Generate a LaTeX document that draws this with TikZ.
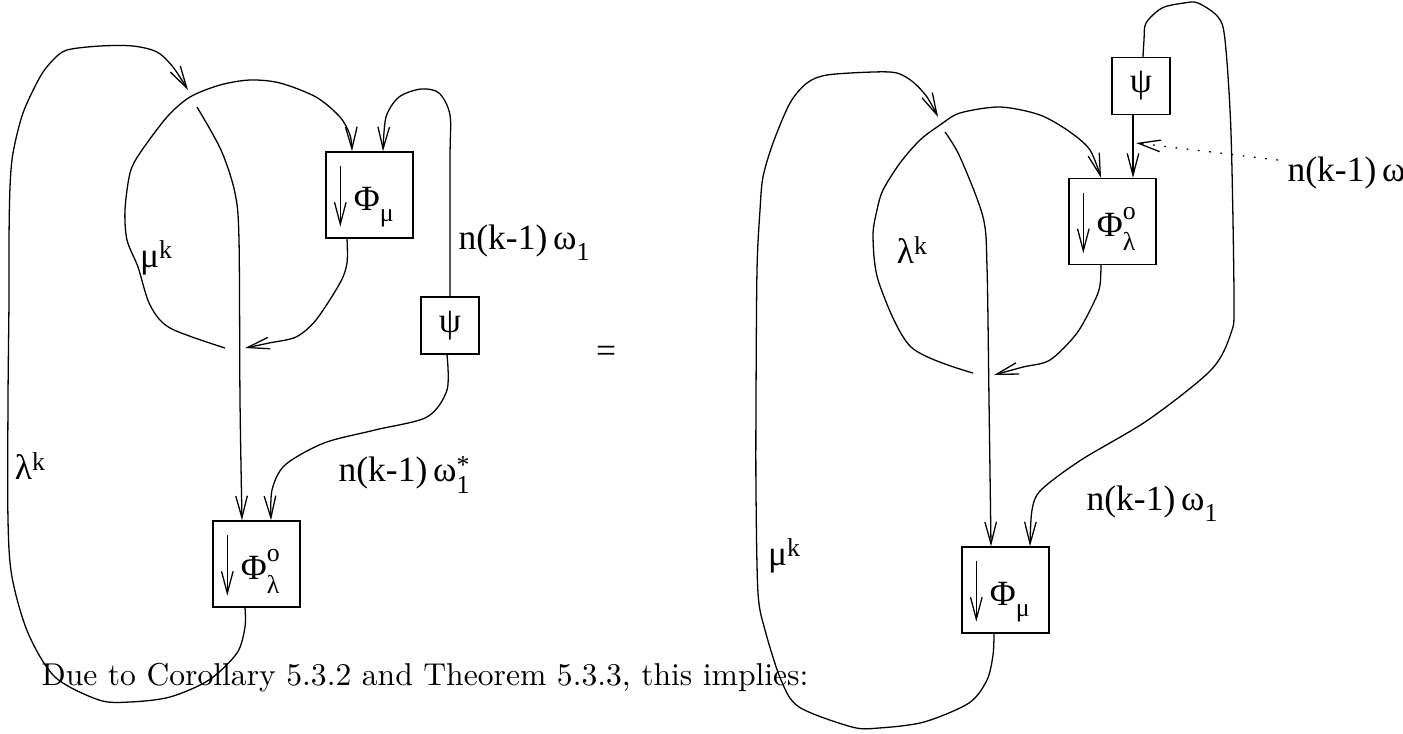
\documentclass[tikz,border=0pt]{standalone}
\usepackage{fontspec}
\setmainfont{Liberation Serif}
\newfontfamily\capfont{Latin Modern Roman}
\usetikzlibrary{arrows.meta}
\newcommand{\scr}[2]{\raisebox{#1}{\fontsize{8}{9}\selectfont #2}}

\begin{document}
\begin{tikzpicture}[x=0.31pt, y=-0.31pt, line width=0.4pt,
	every node/.style={font=\fontsize{11}{13}\selectfont, inner sep=0pt},
	>={Straight Barb[length=6.8pt, width=3.6pt]},
	mapbox/.style={draw, minimum width=27pt, minimum height=26.7pt},
	psibox/.style={draw, minimum width=18pt, minimum height=17.7pt}]
	\useasboundingbox (0,0) rectangle (1403,733);
	% boxes
	\node[mapbox] (pmL) at (369.5,195) {};
	\node[mapbox] (plL) at (256.5,564) {};
	\node[psibox] (psiL) at (450,325.5) {ψ};
	\node[mapbox] (plR) at (1112.5,221.5) {};
	\node[mapbox] (pmR) at (1005.5,590) {};
	\node[psibox] (psiR) at (1141,86) {ψ};
	\node[anchor=base west] (pmLt) at ([shift={(28,15)}]pmL.west) {Φ\scr{-3.6pt}{μ}};
	\node[anchor=base west] (plLt) at ([shift={(28,15)}]plL.west) {Φ\rlap{\scr{5.4pt}{o}}\scr{-4.4pt}{λ}};
	\node[anchor=base west] (plRt) at ([shift={(28,15)}]plR.west) {Φ\rlap{\scr{5.4pt}{o}}\scr{-4.4pt}{λ}};
	\node[anchor=base west] (pmRt) at ([shift={(28,15)}]pmR.west) {Φ\scr{-3.6pt}{μ}};
	\foreach \b in {pmL,plL,plR,pmR}
		\draw[->] ([shift={(15,15)}]\b.north west) -- ([shift={(15,-12)}]\b.south west);
	% crossing ends
	\coordinate (xL1) at (188,90);
	\coordinate (xL2) at (197,107);
	\coordinate (xL3) at (225,348);
	\coordinate (xL4) at (245,348);
	\coordinate (xR1) at (938,117);
	\coordinate (xR2) at (945,132);
	\coordinate (xR3) at (973,373);
	\coordinate (xR4) at (994,375);
	\coordinate (xR5) at (1278,160);
	\coordinate (xR6) at (1136,143);
	% left side
	\draw[->] plot[smooth] coordinates {([shift={(-11.5,0)}]plL.south) (245,627) (237,653) (209,680) (170,697) (130,702) (99,700) (55,677) (28,633) (12,577) (8,520) (8,400) (9,300) (9,240) (10,187) (13,153) (23,113) (40,77) (53,60) (67,50) (100,46) (133,46) (157,52) (173,67) (xL1)};
	\draw[->] plot[smooth] coordinates {(xL2) (221,150) (235,193) (239,240) (240,400) ([shift={(-14.5,0)}]plL.north)};
	\draw[->] plot[smooth] coordinates {(xL3) (170,328) (150,305) (138,267) (127,240) (125,210) (130,173) (140,153) (167,117) (190,97) (220,85) (250,80) (280,83) (316,97) (340,117) (350,135) ([shift={(-17.5,0)}]pmL.north)};
	\draw[->] plot[smooth] coordinates {([shift={(-22.5,0)}]pmL.south) (347,263) (340,283) (316,320) (296,337) (269,343) (xL4)};
	\draw[->] plot[smooth] coordinates {(psiL.north) (450,160) (450,115) (439,93) (421,89) (399,97) (386,117) ([shift={(13.5,0)}]pmL.north)};
	\draw[->] plot[smooth] coordinates {([shift={(-3,0)}]psiL.south) (447,390) (427,417) (375,430) (324,443) (285,465) (272,490) ([shift={(14.5,0)}]plL.north)};
	% right side
	\draw[->] plot[smooth] coordinates {([shift={(-11.5,0)}]pmR.south) (993,655) (987,680) (969,703) (924,722) (879,728) (852,727) (799,707) (781,680) (765,630) (758,593) (756,493) (756,400) (757,270) (760,210) (763,177) (773,143) (790,103) (807,83) (827,75) (873,72) (897,73) (913,82) (927,97) (xR1)};
	\draw[->] plot[smooth] coordinates {(xR2) (960,157) (983,217) (987,267) (989,400) ([shift={(-14.5,0)}]pmR.north)};
	\draw[->] plot[smooth] coordinates {(xR3) (911,347) (879,283) (873,237) (877,210) (883,190) (900,163) (920,140) (940,125) (960,113) (1000,107) (1040,115) (1070,132) (1090,150) ([shift={(-11.5,0)}]plR.north)};
	\draw[->] plot[smooth] coordinates {([shift={(-11.5,0)}]plR.south) (1100,285) (1095,300) (1077,333) (1050,360) (1023,367) (xR4)};
	\draw[->] plot[smooth] coordinates {([shift={(2,0)}]psiR.north) (1144,40) (1146,23) (1162,8) (1184,3) (1198,3) (1218,17) (1225,40) (1231,133) (1234,300) (1231,333) (1211,370) (1148,420) (1081,460) (1041,490) (1032,510) ([shift={(24.5,0)}]pmR.north)};
	\draw[->] ([shift={(-8,0)}]psiR.south) -- ([shift={(20.5,0)}]plR.north);
	\draw[->, dash pattern=on 0.5pt off 3pt] (xR5) -- (xR6);
	% labels
	\node (muL) at (156,258) {μ\scr{2.6pt}{k}};
	\node (laL) at (30,466) {λ\scr{2.6pt}{k}};
	\node[anchor=base west] (wL1) at (458,249) {n(k-1)\,ω\scr{-3.6pt}{1}};
	\node[anchor=base west] (wL2) at (338,481) {n(k-1)\,ω\rlap{\scr{2.2pt}{*}}\scr{-4pt}{1}};
	\node (eq) at (606,354) {=};
	\node (laR) at (912,250) {λ\scr{2.6pt}{k}};
	\node (muR) at (784,556) {μ\scr{2.6pt}{k}};
	\node[anchor=base west] (wR1) at (1086,510) {n(k-1)\,ω\scr{-3.6pt}{1}};
	\node[anchor=base west] (wR2) at (1287,181) {n(k-1)\,ω};
	\node[anchor=base west, font=\capfont\fontsize{9.8}{12}\selectfont] (cap) at (41,685) {Due to Corollary 5.3.2 and Theorem 5.3.3, this implies:};
\end{tikzpicture}
\end{document}
